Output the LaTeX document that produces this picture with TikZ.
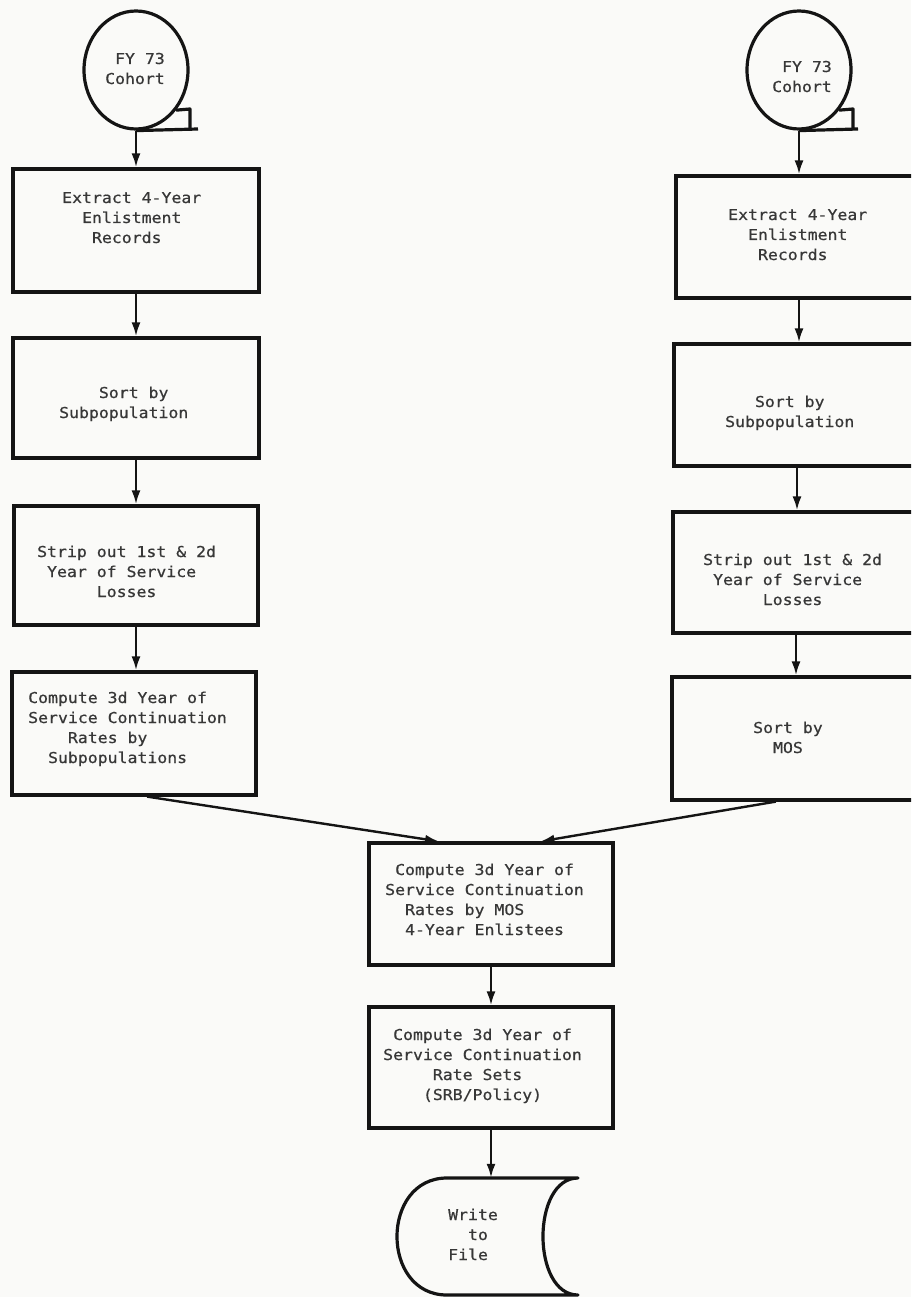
\documentclass[tikz,border=0pt]{standalone}
\usepackage{fontspec}
\newfontfamily\tw[FakeStretch=1.1,FakeBold=0.6]{DejaVu Sans Mono}
\usetikzlibrary{arrows.meta,calc,shapes.geometric}
\newcommand\ind[1]{\hspace*{#1\fontcharwd\font`0}}
\newcommand\mylines[1]{\begin{tabular}[t]{@{}l@{}}#1\end{tabular}}
\definecolor{paper}{RGB}{250,250,248}
\definecolor{ink}{RGB}{20,20,20}
\begin{document}
\begin{tikzpicture}[x=1pt,y=-1pt,
  box/.style={draw=ink, line width=3.2pt, rectangle, inner sep=0pt},
  tape/.style={draw=ink, line width=3.2pt, ellipse, inner sep=0pt, minimum width=104pt, minimum height=118pt},
  outl/.style={draw=ink, line width=3.2pt, line join=round},
  arr/.style={draw=ink, line width=2.4pt, -{Latex[length=14pt,width=9pt]}},
  txt/.style={anchor=base west, inner sep=0pt, font=\tw\fontsize{15}{20}\selectfont, text=ink!85}]
\clip (0,0) rectangle (911,1297);
\useasboundingbox (0,0) rectangle (911,1297);
\fill[paper] (0,0) rectangle (911,1297);

% tapes
\node[tape] (CL) at (136,70) {};
\draw[outl] (CL.-45) -- (190,109) -- (190,129);
\draw[outl] (CL.south) -- (198,129);
\node[tape] (CR) at (799,70) {};
\draw[outl] (CR.-45) -- (853,109) -- (853,129);
\draw[outl] (CR.south) -- (858,129);

% left column
\node[box, minimum width=246pt, minimum height=123pt] (L1) at (136,230.5) {};
\node[box, minimum width=246pt, minimum height=120pt] (L2) at (136,398) {};
\node[box, minimum width=244pt, minimum height=119pt] (L3) at (136,565.5) {};
\node[box, minimum width=244pt, minimum height=123pt] (L4) at (134,733.5) {};

% right column
\node[box, minimum width=246pt, minimum height=122pt] (R1) at (799,237) {};
\node[box, minimum width=246pt, minimum height=122pt] (R2) at (797,405) {};
\node[box, minimum width=246pt, minimum height=121pt] (R3) at (796,572.5) {};
\node[box, minimum width=246pt, minimum height=123pt] (R4) at (795,738.5) {};

% centre
\node[box, minimum width=244pt, minimum height=122pt] (C1) at (491,904) {};
\node[box, minimum width=244pt, minimum height=121pt] (C2) at (491,1067.5) {};
\node[inner sep=0pt, minimum width=181pt, minimum height=117pt] (W) at (491,1236.5) {};
\draw[outl] (447,1178) -- (578,1178)
  .. controls (531.3,1178) and (531.3,1295) .. (578,1295)
  -- (447,1295)
  .. controls (380.3,1295) and (380.3,1178) .. (447,1178) -- cycle;

% connectors
\draw[arr] (CL.south) -- (L1.north);
\draw[arr] (L1.south) -- (L2.north);
\draw[arr] (L2.south) -- (L3.north);
\draw[arr] (L3.south) -- (L3.south |- L4.north);
\draw[arr] (CR.south) -- (R1.north);
\draw[arr] (R1.south) -- (R1.south |- R2.north);
\draw[arr] (R2.south) -- (R2.south |- R3.north);
\draw[arr] (R3.south) -- (R3.south |- R4.north);
\draw[arr] ($(L4.south west)!0.553!(L4.south east)$) -- ($(C1.north west)!0.29!(C1.north east)$);
\draw[arr] ($(R4.south west)!0.423!(R4.south east)$) -- ($(C1.north west)!0.70!(C1.north east)$);
\draw[arr] (C1.south) -- (C2.north);
\draw[arr] (C2.south) -- (W.north);

% texts
\node[txt] (tCL) at (105,64) {\mylines{\ind1FY 73\\Cohort}};
\node[txt] (tCR) at (772,72) {\mylines{\ind1FY 73\\Cohort}};
\node[txt] (tL1) at (62,203) {\mylines{Extract 4-Year\\\ind2Enlistment\\\ind3Records}};
\node[txt] (tL2) at (59,398) {\mylines{\ind4Sort by\\Subpopulation}};
\node[txt] (tL3) at (37,557) {\mylines{Strip out 1st \& 2d\\\ind1Year of Service\\\ind6Losses}};
\node[txt] (tL4) at (28,703) {\mylines{Compute 3d Year of\\Service Continuation\\\ind4Rates by\\\ind2Subpopulations}};
\node[txt] (tR1) at (728,220) {\mylines{Extract 4-Year\\\ind2Enlistment\\\ind3Records}};
\node[txt] (tR2) at (725,407) {\mylines{\ind3Sort by\\Subpopulation}};
\node[txt] (tR3) at (703,565) {\mylines{Strip out 1st \& 2d\\\ind1Year of Service\\\ind6Losses}};
\node[txt] (tR4) at (753,733) {\mylines{Sort by\\\ind2MOS}};
\node[txt] (tC1) at (385,875) {\mylines{\ind1Compute 3d Year of\\Service Continuation\\\ind2Rates by MOS\\\ind24-Year Enlistees}};
\node[txt] (tC2) at (383,1040) {\mylines{\ind1Compute 3d Year of\\Service Continuation\\\ind5Rate Sets\\\ind4(SRB/Policy)}};
\node[txt] (tW) at (448,1220) {\mylines{Write\\\ind2to\\File}};
\end{tikzpicture}
\end{document}
